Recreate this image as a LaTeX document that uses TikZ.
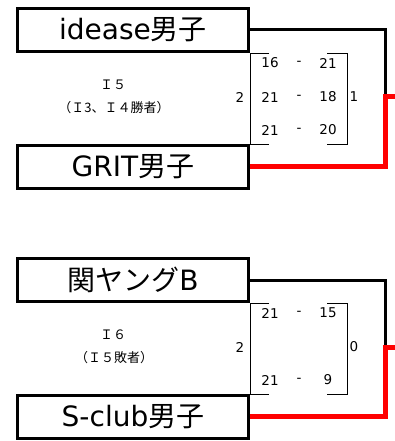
\documentclass[tikz,border=0pt]{standalone}
\usepackage{fontspec}
\setmainfont{DejaVu Sans}
\newfontfamily\jp{Noto Sans CJK JP}
\tikzset{
  team/.style={draw,line width=3pt,minimum width=231pt,minimum height=43pt,inner sep=0pt,font=\fontsize{28}{28}\selectfont},
  score/.style={inner sep=0pt,font=\fontsize{13.5}{13.5}\selectfont},
  round/.style={inner sep=0pt,font=\jp\fontsize{13}{13}\selectfont},
  bracket/.style={line width=0.8pt},
  loseline/.style={line width=3pt},
  winline/.style={line width=5pt,red}
}
\begin{document}
\begin{tikzpicture}[x=1pt,y=-1pt]
\useasboundingbox (0,0) rectangle (395,441);
\begin{scope}
    \node[team] (ideas) at (133,30) {idease{\jp 男子}};
    \node[team] (grit) at (133,166.5) {GRIT{\jp 男子}};
    \node[round] (r5) at (113,85) {Ｉ５};
    \node[round] (r5sub) at (114,107.5) {（Ｉ3、Ｉ４勝者）};
    \draw[bracket] (269,53)--(250,53)--(250,144)--(269,144);
    \draw[bracket] (327,53)--(347,53)--(347,144)--(327,144);
    \node[score] (a1) at (270,63) {16};  \node[score] (d1) at (299,63) {-}; \node[score] (b1) at (328,63) {21};
    \node[score] (a2) at (270,97) {21};  \node[score] (d2) at (299,97) {-}; \node[score] (b2) at (328,97) {18};
    \node[score] (a3) at (270,130) {21}; \node[score] (d3) at (299,130) {-}; \node[score] (b3) at (328,130) {20};
    \node[score] (ga) at (240,97) {2};
    \node[score] (gb) at (354,97) {1};
    \coordinate (endA) at (385,95);
    \coordinate (turnA) at (385,97);
    \coordinate (outA) at (397,97);
    \draw[loseline] (ideas.east) -| (endA);
    \draw[winline] (grit.east) -| (turnA) -- (outA);
\end{scope}
\begin{scope}[yshift=-250pt]
    \node[team] (kanyb) at (133,30) {{\jp 関ヤング}B};
    \node[team] (sclub) at (133,166.5) {S-club{\jp 男子}};
    \node[round] (r6) at (113,85) {Ｉ６};
    \node[round] (r6sub) at (114,107.5) {（Ｉ５敗者）};
    \draw[bracket] (269,53)--(250,53)--(250,144)--(269,144);
    \draw[bracket] (327,53)--(347,53)--(347,144)--(327,144);
    \node[score] (c1) at (270,63) {21};  \node[score] (e1) at (299,63) {-}; \node[score] (f1) at (328,63) {15};
    \node[score] (c3) at (270,130) {21}; \node[score] (e3) at (299,130) {-}; \node[score] (f3) at (328,130) {9};
    \node[score] (gc) at (240,97) {2};
    \node[score] (gf) at (354,97) {0};
    \coordinate (endB) at (385,95);
    \coordinate (turnB) at (385,97);
    \coordinate (outB) at (397,97);
    \draw[loseline] (kanyb.east) -| (endB);
    \draw[winline] (sclub.east) -| (turnB) -- (outB);
\end{scope}
\end{tikzpicture}
\end{document}
